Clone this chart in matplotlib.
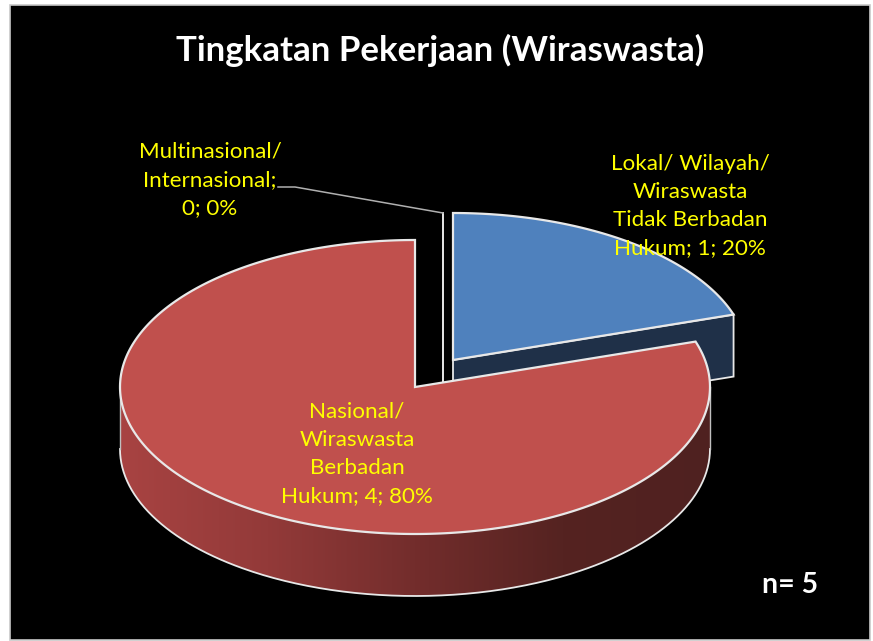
import numpy as np
import matplotlib
matplotlib.use("Agg")
import matplotlib.pyplot as plt
from matplotlib.colors import LinearSegmentedColormap
from matplotlib.patches import Polygon, Rectangle

categories = ["Lokal/ Wilayah/\nWiraswasta\nTidak Berbadan\nHukum", "Nasional/\nWiraswasta\nBerbadan\nHukum", "Multinasional/\nInternasional;\n0"]
values = [1, 4, 0]
percent_labels = ["20%", "80%", "0%"]
title = "Tingkatan Pekerjaan (Wiraswasta)"
n_label = "n= 5"

plt.rcParams["font.family"] = ["Lato", "DejaVu Sans"]

# pie geometry in picture pixels
rx, ry, depth = 295, 147, 62
centers = [(453, 360), (415, 387), (443, 360)]
edge = "#e8e8e8"

fig = plt.figure(figsize=(8.73, 6.41), dpi=100, facecolor="white")
ax = fig.add_axes([0, 0, 1, 1])
ax.set_xlim(0, 873)
ax.set_ylim(641, 0)
ax.axis("off")

ax.add_patch(Rectangle((10, 5), 860, 635, facecolor="black", edgecolor="#c8c8c8", lw=1.2))


def rim(center, a0, a1, drop=0):
    # angles in degrees, clockwise from the top of the ellipse
    t = np.radians(np.linspace(a0, a1, 300))
    return np.column_stack([center[0] + rx * np.sin(t), center[1] - ry * np.cos(t) + drop])


# slice angles from the values
total = sum(values)
blue_end = 360 * values[0] / total
red_end = blue_end + 360 * values[1] / total
zero_end = red_end + 360 * values[2] / total

# zero slice is just a line, with the leader to its label
zero_top = rim(centers[2], zero_end, zero_end)[0]
ax.plot([centers[2][0], zero_top[0]], [centers[2][1] + 25, zero_top[1]], color=edge, lw=1.4, zorder=2)
ax.plot([278, 295, zero_top[0]], [187, 187, zero_top[1]], color="#b0b0b0", lw=1.1, zorder=2)

# blue slice, cut face and top
c = centers[0]
p = rim(c, blue_end, blue_end)[0]
face = [c, p, (p[0], p[1] + depth), (c[0], c[1] + depth)]
ax.add_patch(Polygon(face, closed=True, facecolor="#1f3048", edgecolor=edge, lw=1.3, zorder=3))
top = np.vstack([[c], rim(c, 0, blue_end)])
ax.add_patch(Polygon(top, closed=True, facecolor="#4f81bd", edgecolor=edge, lw=1.6, joinstyle="miter", zorder=4))

# red slice, side with gradient
c = centers[1]
side = np.vstack([rim(c, 90, 270), rim(c, 270, 90, depth)])
side_patch = Polygon(side, closed=True, facecolor="none", edgecolor="none", zorder=5)
ax.add_patch(side_patch)
side_cmap = LinearSegmentedColormap.from_list(
    "side", [(0, "#a84342"), (0.25, "#933a39"), (0.5, "#732d2c"), (0.75, "#552321"), (1, "#4f2120")]
)
grad = ax.imshow(
    np.linspace(0, 1, 256).reshape(1, -1), cmap=side_cmap, aspect="auto",
    extent=(120, 710, 596, 380), zorder=5,
)
grad.set_clip_path(side_patch)
ax.set_xlim(0, 873)
ax.set_ylim(641, 0)
ax.plot(*rim(c, 90, 270, depth).T, color=edge, lw=1.3, zorder=6)
ax.plot([c[0] - rx, c[0] - rx], [c[1], c[1] + depth], color="#c0c0c0", lw=1, zorder=6)
ax.plot([c[0] + rx, c[0] + rx], [c[1], c[1] + depth], color="#c0c0c0", lw=1, zorder=6)

# red slice, top
top = np.vstack([[c], rim(c, blue_end, red_end)])
ax.add_patch(Polygon(top, closed=True, facecolor="#c0504d", edgecolor=edge, lw=1.6, joinstyle="miter", zorder=7))

# texts
ax.text(440, 50, title, color="white", fontsize=25.1, fontweight="bold", ha="center", va="center", zorder=10)
ax.text(790, 585, n_label, color="white", fontsize=20.5, fontweight="bold", ha="center", va="center", zorder=10)

label_style = dict(color="#ffff00", fontsize=16.1, ha="center", va="center", linespacing=1.52, zorder=10)
ax.text(690, 206, f"{categories[0]}; {values[0]}; {percent_labels[0]}", **label_style)
ax.text(357, 454, f"{categories[1]}; {values[1]}; {percent_labels[1]}", **label_style)
ax.text(210, 180, f"{categories[2]}; {percent_labels[2]}", **label_style)

fig.savefig("out.png", dpi=100, facecolor=fig.get_facecolor())
